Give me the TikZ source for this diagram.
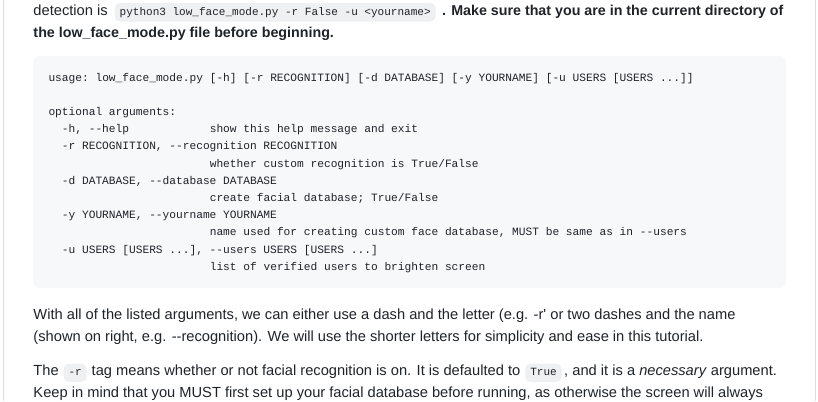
\documentclass[tikz,border=0pt]{standalone}
\usepackage{fontspec}
\setmainfont{Liberation Sans}
\setmonofont{Liberation Mono}
\usetikzlibrary{positioning}
\definecolor{ghtext}{HTML}{1F2328}
\definecolor{ghcode}{HTML}{F6F8FA}
\definecolor{ghchip}{HTML}{EEF0F2}
\definecolor{ghrule}{HTML}{D8DEE4}

\tikzset{every picture/.style={line width=0.75pt}}
\tikzset{
  para/.style={anchor=base west, inner sep=0pt, text=ghtext, font=\fontsize{11pt}{13pt}\selectfont},
  parab/.style={para, font=\fontsize{10.7pt}{13pt}\selectfont\bfseries},
  codeline/.style={anchor=base west, inner sep=0pt, text=ghtext, font=\ttfamily\fontsize{8.4pt}{10pt}\selectfont},
  chip/.style={anchor=base west, fill=ghchip, rounded corners=4pt, inner xsep=3.75pt, inner ysep=2.8pt,
    text height=6.2pt, text depth=2.1pt, text=ghtext, font=\ttfamily\fontsize{8.27pt}{10pt}\selectfont},
}

\begin{document}
\begin{tikzpicture}[x=0.75pt,y=0.75pt,yscale=-1,xscale=1]
\useasboundingbox (0,0) rectangle (818,401);
%Straight Lines [id:frame_left]
\draw [ghrule]    (3.5,0) -- (3.5,401) ;
%Straight Lines [id:frame_right]
\draw [ghrule]    (815.5,0) -- (815.5,401) ;
%Shape: Rectangle [id:codeblock]
\draw  [draw=none, fill=ghcode, rounded corners=4.5pt] (33,56) rectangle (786,288) ;

% Text Node
\node [para] (intro) at (33,15) {detection is};
% Text Node
\node [chip] (runcmd) at ([xshift=4.5pt]intro.base east) {python3 low\_face\_mode.py -r False -u <yourname>};
% Text Node
\node [parab] (introb) at ([xshift=4pt]runcmd.base east) {. Make sure that you are in the current directory of};
% Text Node
\node [parab] (introc) at (33,37.5) {the low\_face\_mode.py file before beginning.};

% Text Node
\node [codeline] (usage) at (48,81) {usage: low\_face\_mode.py [-h] [-r RECOGNITION] [-d DATABASE] [-y YOURNAME] [-u USERS [USERS ...]]};
% Text Node
\node [codeline] (optargs) at (48,115.4) {optional arguments:};
% Text Node
\node [codeline] (hflag) at (61.4,132.6) {-h, -{}-help};
% Text Node
\node [codeline] (hhelp) at (209.3,132.6) {show this help message and exit};
% Text Node
\node [codeline] (rflag) at (61.4,149.8) {-r RECOGNITION, -{}-recognition RECOGNITION};
% Text Node
\node [codeline] (rhelp) at (209.3,167) {whether custom recognition is True/False};
% Text Node
\node [codeline] (dflag) at (61.4,184.2) {-d DATABASE, -{}-database DATABASE};
% Text Node
\node [codeline] (dhelp) at (209.3,201.4) {create facial database; True/False};
% Text Node
\node [codeline] (yflag) at (61.4,218.6) {-y YOURNAME, -{}-yourname YOURNAME};
% Text Node
\node [codeline] (yhelp) at (209.3,235.8) {name used for creating custom face database, MUST be same as in -{}-users};
% Text Node
\node [codeline] (uflag) at (61.4,253) {-u USERS [USERS ...], -{}-users USERS [USERS ...]};
% Text Node
\node [codeline] (uhelp) at (209.3,270.2) {list of verified users to brighten screen};

% Text Node
\node [para] (argsa) at (33,319) {With all of the listed arguments, we can either use a dash and the letter (e.g. -r\textquotesingle{} or two dashes and the name};
% Text Node
\node [para] (argsb) at (33,341.5) {(shown on right, e.g. -{}-recognition). We will use the shorter letters for simplicity and ease in this tutorial.};

% Text Node
\node [para] (taga) at (33,375.5) {The};
% Text Node
\node [chip] (rchip) at ([xshift=2.8pt]taga.base east) {-r};
% Text Node
\node [para] (tagb) at ([xshift=3pt]rchip.base east) {tag means whether or not facial recognition is on. It is defaulted to};
% Text Node
\node [chip] (truechip) at ([xshift=3pt]tagb.base east) {True};
% Text Node
\node [para] (tagc) at ([xshift=1.1pt]truechip.base east) {, and it is a \textit{necessary} argument.};
% Text Node
\node [para] (tagd) at (33,397.5) {Keep in mind that you MUST first set up your facial database before running, as otherwise the screen will always};

\end{tikzpicture}
\end{document}
